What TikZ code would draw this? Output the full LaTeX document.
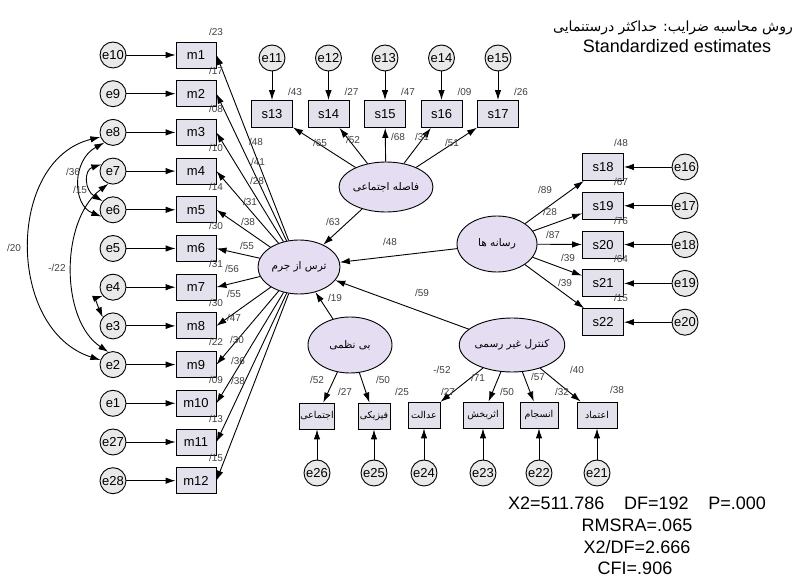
\documentclass[tikz,border=0pt]{standalone}
\usepackage{fontspec}
\setmainfont{Liberation Sans}
\newfontfamily\farsi[Script=Arabic]{DejaVu Sans}
\TeXXeTstate=1
\usetikzlibrary{arrows.meta,shapes.geometric}
\definecolor{latfill}{RGB}{229,221,241}
\definecolor{boxfill}{RGB}{227,225,235}
\definecolor{errfill}{RGB}{233,233,233}
\newcommand{\fa}[1]{{\farsi\beginR #1\endR}}

\begin{document}
\begin{tikzpicture}[x=1pt,y=-1pt,
        >={Latex[length=10pt,width=6.5pt]},
        err/.style={draw,circle,fill=errfill,minimum size=26pt,inner sep=0pt,line width=0.9pt,font=\fontsize{13}{13}\selectfont},
        obs/.style={draw,rectangle,fill=boxfill,minimum width=40pt,minimum height=26pt,inner sep=1pt,line width=0.9pt,font=\fontsize{13}{13}\selectfont},
        fobs/.style={obs,minimum width=32pt,font=\fontsize{9.5}{10}\selectfont},
        lat/.style={draw,ellipse,fill=latfill,minimum width=82pt,minimum height=54pt,inner sep=0pt,line width=0.9pt,font=\fontsize{10.5}{11}\selectfont},
        est/.style={font=\fontsize{10}{10}\selectfont,text=black!75,inner sep=0pt},
        arr/.style={->,line width=0.9pt},
        cov/.style={<->,line width=0.9pt}]
        \useasboundingbox (0,0) rectangle (807,577);

        % latent variables
        \node[lat] (fear) at (299,267) {\fa{ترس از جرم}};
        \node[lat,minimum height=50pt] (dist) at (386,187) {\fa{فاصله اجتماعی}};
        \node[lat,minimum width=80pt,minimum height=56pt] (media) at (497,244) {\fa{رسانه ها}};
        \node[lat,minimum width=84pt,minimum height=56pt] (disord) at (350,345) {\fa{بی نظمی}};
        \node[lat,minimum width=84pt,minimum height=54pt] (ctrl) at (512,345) {\fa{کنترل غیر رسمی}};

        % fear of crime items
        \foreach \i/\en/\ld/\rr/\lx/\ly in {1/e10/48/23/256/142, 2/e9/41/17/258/162, 3/e8/28/08/257/181,
                4/e7/31/10/250/202, 5/e6/38/14/248/222, 6/e5/55/30/247/246, 7/e4/56/31/232/269,
                8/e3/55/30/234/294, 9/e2/47/22/234/318, 10/e1/30/09/237/340, 11/e27/36/13/238/361,
                12/e28/38/15/238/381} {
            \node[obs] (m\i) at (196,{55+38.7*(\i-1)}) {m\i};
            \node[err] (\en) at (113,{55+38.7*(\i-1)}) {\en};
            \draw[arr] (\en) -- (m\i);
            \draw[arr] (fear) -- (m\i.east);
            \node[est] (rm\i) at (216,{32+38.7*(\i-1)}) {/\rr};
            \node[est] (lm\i) at (\lx,\ly) {/\ld};
        }

        % error covariances
        \draw[cov] (e8.200) .. controls (6,160) and (6,330) .. (e2.160);
        \draw[cov] (e7.250) .. controls (60,220) and (60,320) .. (e2.110);
        \draw[cov] (e8.230) .. controls (72,160) and (72,205) .. (e6.210);
        \draw[cov] (e7.150) .. controls (84,170) and (84,190) .. (e6.140);
        \draw[cov] (e4.220) .. controls (96,298) and (96,302) .. (e3.140);
        \node[est] (c1) at (14,248) {/20};
        \node[est] (c2) at (57,268) {-/22};
        \node[est] (c3) at (73,172) {/36};
        \node[est] (c4) at (80,190) {/15};

        % social distance items
        \foreach \j/\sn/\en/\ld/\rr/\lx/\ly in {0/13/e11/65/43/320/143, 1/14/e12/52/27/353/140,
                2/15/e13/68/47/398/137, 3/16/e14/31/09/422/137, 4/17/e15/51/26/452/143} {
            \node[obs,minimum width=41pt,minimum height=27pt] (s\sn) at ({272+56.5*\j},114) {s\sn};
            \node[err] (\en) at ({272+56.5*\j},58) {\en};
            \draw[arr] (\en) -- (s\sn);
            \draw[arr] (dist) -- (s\sn);
            \node[est] (rs\sn) at ({295+56.5*\j},92) {/\rr};
            \node[est] (ls\sn) at (\lx,\ly) {/\ld};
        }

        % media items
        \foreach \k/\sn/\en/\ld/\rr/\lx/\ly in {0/18/e16/89/48/545/190, 1/19/e17/28/67/550/212,
                2/20/e18/87/76/553/235, 3/21/e19/39/64/568/258, 4/22/e20/39/15/565/283} {
            \node[obs,minimum width=41pt,minimum height=27pt] (s\sn) at (603,{167+38.8*\k}) {s\sn};
            \node[err] (\en) at (685,{167+38.8*\k}) {\en};
            \draw[arr] (\en) -- (s\sn);
            \draw[arr] (media) -- (s\sn);
            \node[est] (rs\sn) at (621,{143+38.8*\k}) {/\rr};
            \node[est] (ls\sn) at (\lx,\ly) {/\ld};
        }

        % disorder and informal control items
        \node[fobs] (soc) at (317,416) {\fa{اجتماعی}};
        \node[fobs] (phys) at (374,416) {\fa{فیزیکی}};
        \node[fobs] (just) at (424,415) {\fa{عدالت}};
        \node[fobs,minimum width=40pt] (effic) at (483,415) {\fa{اثربخش}};
        \node[fobs,minimum width=38pt] (cohes) at (539,415) {\fa{انسجام}};
        \node[fobs,minimum width=40pt] (trust) at (597,415) {\fa{اعتماد}};
        \foreach \en/\b in {e26/soc, e25/phys, e24/just, e23/effic, e22/cohes, e21/trust} {
            \node[err] (\en) at (\b |- 0,473) {\en};
            \draw[arr] (\en) -- (\b);
        }
        \draw[arr] (disord) -- (soc);
        \draw[arr] (disord) -- (phys);
        \draw[arr] (ctrl) -- (just);
        \draw[arr] (ctrl) -- (effic);
        \draw[arr] (ctrl) -- (cohes);
        \draw[arr] (ctrl) -- (trust);
        \node[est] (lsoc) at (317,380) {/52};
        \node[est] (rsoc) at (345,392) {/27};
        \node[est] (lphys) at (383,380) {/50};
        \node[est] (rphys) at (402,392) {/25};
        \node[est] (ljust) at (442,370) {-/52};
        \node[est] (rjust) at (448,392) {/27};
        \node[est] (leffic) at (478,378) {/71};
        \node[est] (reffic) at (507,392) {/50};
        \node[est] (lcohes) at (538,377) {/57};
        \node[est] (rcohes) at (562,392) {/32};
        \node[est] (ltrust) at (577,370) {/40};
        \node[est] (rtrust) at (617,390) {/38};

        % structural paths
        \draw[arr] (dist) -- (fear);
        \draw[arr] (media) -- (fear);
        \draw[arr] (disord) -- (fear);
        \draw[arr] (ctrl) -- (fear);
        \node[est] (pdist) at (333,222) {/63};
        \node[est] (pmedia) at (390,242) {/48};
        \node[est] (pdisord) at (335,298) {/19};
        \node[est] (pctrl) at (422,293) {/59};

        % heading and fit indices
        \node[font=\fontsize{14}{14}\selectfont] (head) at (673,28) {\fa{روش محاسبه ضرایب: حداکثر درستنمایی}};
        \node[font=\fontsize{18}{18}\selectfont] (std) at (677,46) {Standardized estimates};
        \node[font=\fontsize{18}{18}\selectfont] (fit1) at (637,503) {X2=511.786\hspace{1.1em}DF=192\hspace{1.1em}P=.000};
        \node[font=\fontsize{18}{18}\selectfont] (fit2) at (637,525) {RMSRA=.065};
        \node[font=\fontsize{18}{18}\selectfont] (fit3) at (637,547) {X2/DF=2.666};
        \node[font=\fontsize{18}{18}\selectfont] (fit4) at (635,568) {CFI=.906};
    \end{tikzpicture}
\end{document}
